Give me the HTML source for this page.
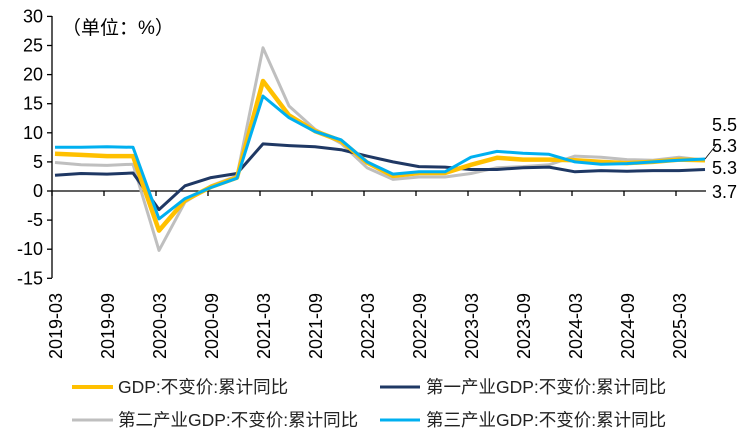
<!DOCTYPE html>
<html><head><meta charset="utf-8"><style>
body{margin:0;background:#fff;}
svg{display:block;font-family:"Liberation Sans","Noto Sans CJK SC",sans-serif;}
</style></head><body>
<svg id="s" width="748" height="446" viewBox="0 0 748 446" xmlns="http://www.w3.org/2000/svg">
<g id="axes" stroke="#000" stroke-width="1.3" fill="none">
<line x1="52" y1="16" x2="52" y2="278"/>
<line x1="52" y1="191" x2="706" y2="191"/>
</g>
<g id="yl" font-size="18" text-anchor="end" fill="#000"></g>
<g id="xl" font-size="18" fill="#000"></g>
<g id="lines" fill="none" stroke-linejoin="round"></g>
<text x="62" y="34" font-size="19">（单位：%）</text>
<g font-size="18" fill="#000">
<text x="712" y="131">5.5</text>
<text x="712" y="152">5.3</text>
<text x="712" y="174">5.3</text>
<text x="712" y="198">3.7</text>
</g>
<line x1="705" y1="159" x2="717" y2="144" stroke="#000" stroke-width="0.8"/>
<g font-size="17.5" fill="#222">
<line x1="72" y1="387" x2="113" y2="387" stroke="#FFC000" stroke-width="4"/>
<text x="118" y="393">GDP:不变价:累计同比</text>
<line x1="380" y1="387" x2="420" y2="387" stroke="#1F3864" stroke-width="3"/>
<text x="426" y="393">第一产业GDP:不变价:累计同比</text>
<line x1="72" y1="420" x2="113" y2="420" stroke="#BFBFBF" stroke-width="3"/>
<text x="118" y="426">第二产业GDP:不变价:累计同比</text>
<line x1="380" y1="420" x2="420" y2="420" stroke="#00B0F0" stroke-width="3"/>
<text x="426" y="426">第三产业GDP:不变价:累计同比</text>
</g>
</svg>
<script>
var NS="http://www.w3.org/2000/svg";
function Y(v){return 191-v*5.82;}
function X(i){return 55+26*i;}
var ax=document.getElementById('axes'),yl=document.getElementById('yl'),xl=document.getElementById('xl'),ln=document.getElementById('lines');
for(var v=-15;v<=30;v+=5){
 var l=document.createElementNS(NS,'line');l.setAttribute('x1',47);l.setAttribute('x2',52);l.setAttribute('y1',Y(v));l.setAttribute('y2',Y(v));ax.appendChild(l);
 var t=document.createElementNS(NS,'text');t.setAttribute('x',43);t.setAttribute('y',Y(v)+6);t.textContent=v;yl.appendChild(t);
}
for(var k=0;k<=12;k++){
 var x=52+52*k;var l=document.createElementNS(NS,'line');l.setAttribute('x1',x);l.setAttribute('x2',x);l.setAttribute('y1',191);l.setAttribute('y2',196);ax.appendChild(l);
}
var labs=["2019-03","2019-09","2020-03","2020-09","2021-03","2021-09","2022-03","2022-09","2023-03","2023-09","2024-03","2024-09","2025-03"];
labs.forEach(function(s,k){var x=X(2*k)+7;var t=document.createElementNS(NS,'text');t.setAttribute('transform','translate('+x+',359) rotate(-90)');t.textContent=s;xl.appendChild(t);});
var d={
p:[2.7,3.0,2.9,3.1,-3.2,0.9,2.3,3.0,8.1,7.8,7.6,7.1,6.0,5.0,4.2,4.1,3.7,3.7,4.0,4.1,3.3,3.5,3.4,3.5,3.5,3.7],
s:[4.9,4.5,4.4,4.6,-10.2,-1.9,0.9,2.6,24.6,14.6,10.6,8.2,4.0,2.0,2.4,2.4,3.0,4.0,4.2,4.5,6.0,5.8,5.4,5.3,5.8,5.3],
g:[6.4,6.2,6.0,6.0,-6.8,-1.6,0.7,2.3,18.9,13.0,10.3,8.6,4.9,2.6,3.1,3.1,4.5,5.7,5.4,5.4,5.3,5.0,4.8,5.0,5.4,5.3],
t:[7.5,7.5,7.6,7.5,-4.8,-1.3,0.6,2.2,16.3,12.6,10.2,8.8,5.0,2.9,3.3,3.3,5.8,6.8,6.5,6.3,5.0,4.6,4.7,5.0,5.3,5.5]};
function pl(a,c,w){var p=document.createElementNS(NS,'polyline');p.setAttribute('points',a.map(function(v,i){return X(i)+','+Y(v).toFixed(1)}).join(' '));p.setAttribute('stroke',c);p.setAttribute('stroke-width',w);ln.appendChild(p);}
pl(d.s,'#BFBFBF',3);pl(d.p,'#1F3864',3);pl(d.g,'#FFC000',4.5);pl(d.t,'#00B0F0',3);
</script>
</body></html>
